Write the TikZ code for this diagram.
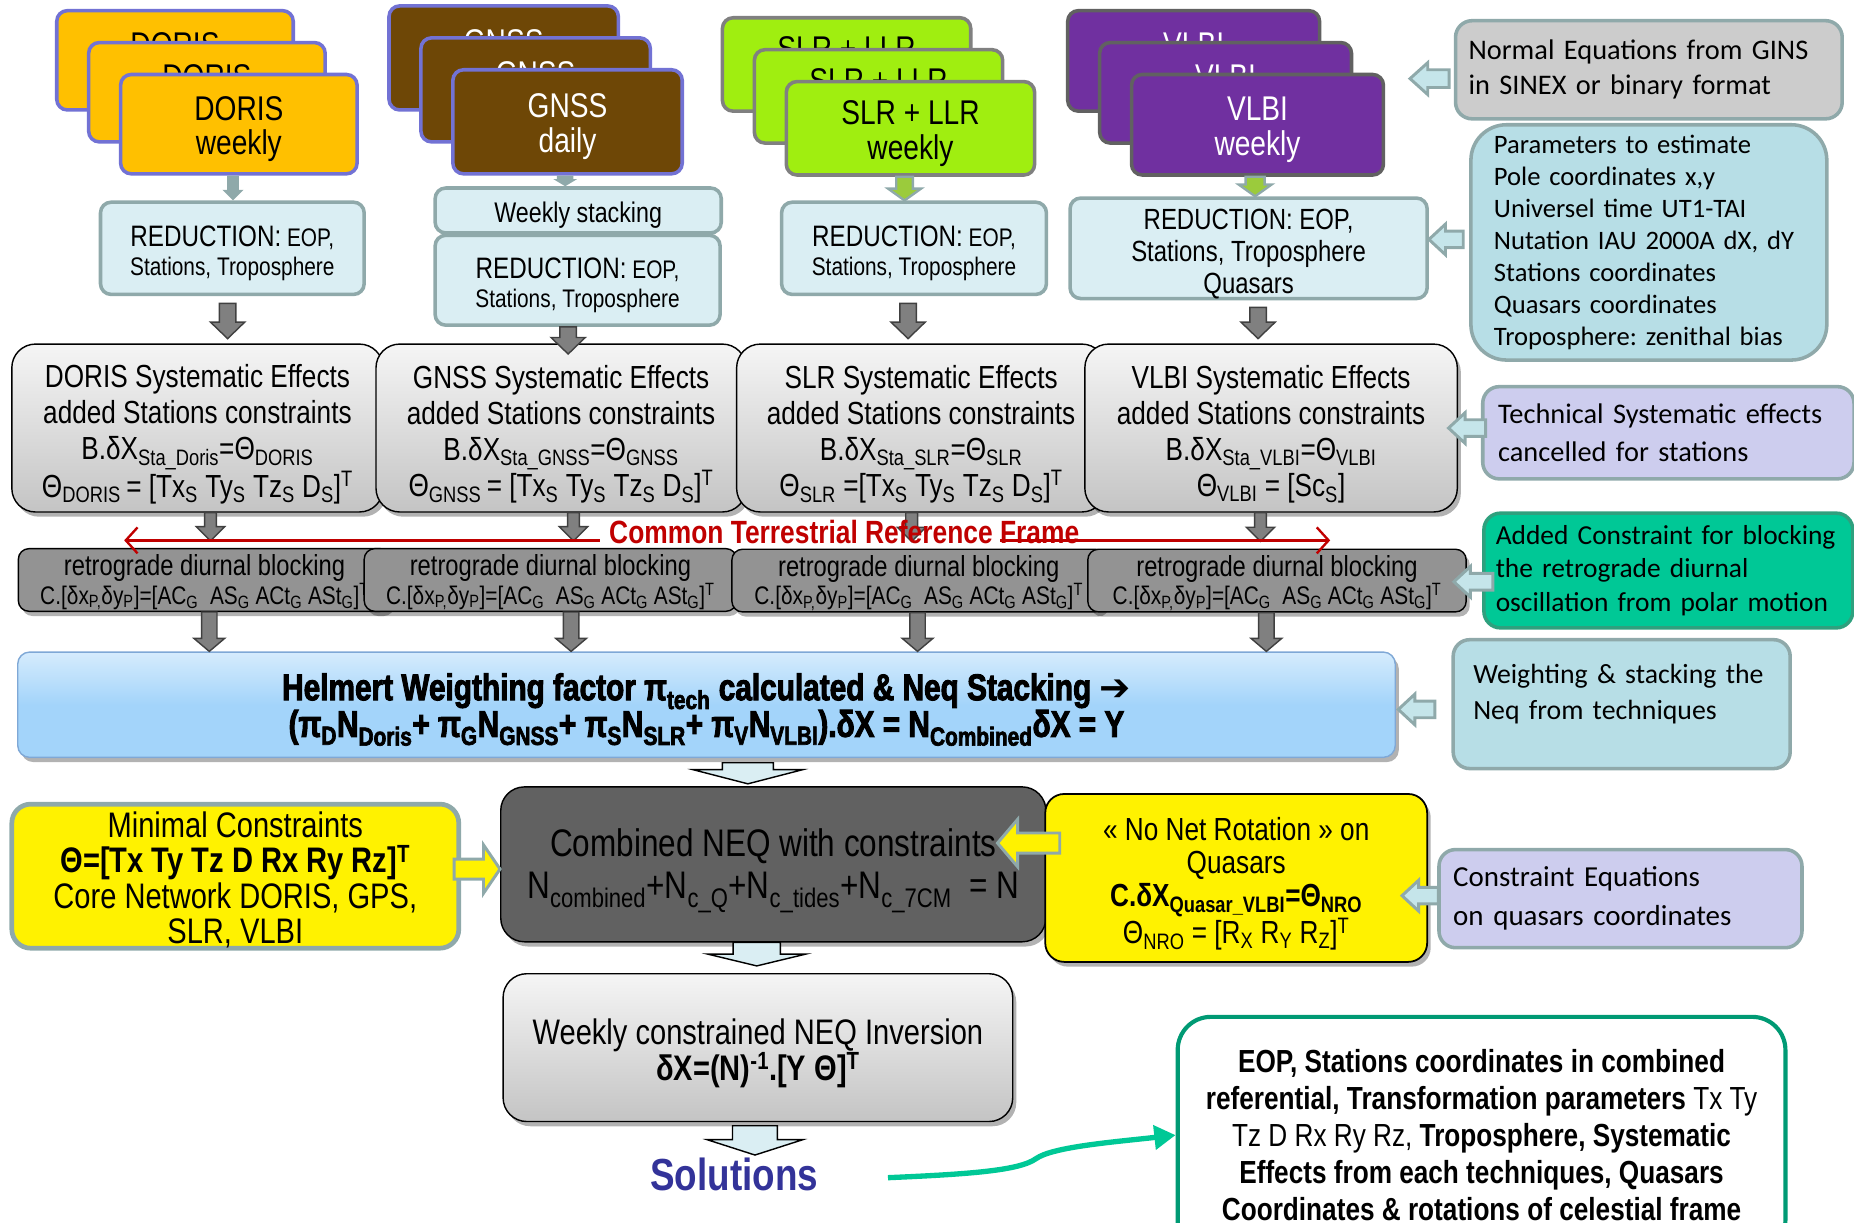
\documentclass[tikz,border=0pt]{standalone}
\usepackage{fontspec}
\setmainfont{Liberation Sans}
\newfontfamily\narr[FakeStretch=0.82]{Liberation Sans}
\newfontfamily\heavy[FakeStretch=0.8,BoldFeatures={FakeBold=2.5}]{Liberation Sans}
\newfontfamily\calib{Carlito}
\newfontfamily\dejav{DejaVu Sans}
\frenchspacing
\usetikzlibrary{calc,shadows,arrows.meta}
\definecolor{dorisg}{HTML}{FFC000}
\definecolor{gnssb}{HTML}{6E4706}
\definecolor{slrg}{HTML}{A0EE10}
\definecolor{vlbiv}{HTML}{7030A0}
\definecolor{lila}{HTML}{7272D4}
\definecolor{rahm}{HTML}{8FA9AA}
\definecolor{hblau}{HTML}{DAEEF3}
\definecolor{pfblau}{HTML}{C5E5EA}
\definecolor{tuerk}{HTML}{B7DEE6}
\definecolor{lav}{HTML}{CDCDEE}
\definecolor{ngrau}{HTML}{CCCCCC}
\definecolor{gruen}{HTML}{00C896}
\definecolor{dgruen}{HTML}{009A74}
\definecolor{mgruen}{HTML}{2FA07E}
\definecolor{rot}{HTML}{C00000}
\definecolor{nblau}{HTML}{333399}
\definecolor{hgrau}{HTML}{939393}
\definecolor{mgrau}{HTML}{808080}
\definecolor{dgrau}{HTML}{616161}
\definecolor{sgrau}{HTML}{404040}
\definecolor{soben}{HTML}{F5F5F5}
\definecolor{sunten}{HTML}{C4C4C4}
\definecolor{himmel}{HTML}{A3D4FA}
\definecolor{hrand}{HTML}{7FA8D6}
\definecolor{slrpf}{HTML}{9BCB3C}
\tikzset{
  schatten/.style={drop shadow={shadow xshift=3pt,shadow yshift=-4pt,opacity=0.3,fill=black}},
  tech/.style={rounded corners=9pt,line width=3pt,align=center,inner sep=0pt,font=\narr\fontsize{29}{29.5}\selectfont},
  dor/.style={tech,draw=lila,fill=dorisg,minimum width=200pt,minimum height=84pt},
  gns/.style={tech,draw=lila,fill=gnssb,text=white,minimum width=194pt,minimum height=88pt},
  slr/.style={tech,draw=mgrau,fill=slrg,minimum width=210pt,minimum height=79pt},
  vlb/.style={tech,draw=dgrau,fill=vlbiv,text=white,minimum width=213pt,minimum height=85pt},
  reduk/.style={rounded corners=9pt,line width=3pt,draw=rahm,fill=hblau,align=center,inner sep=0pt,font=\narr\fontsize{21.5}{24}\selectfont},
  syst/.style={rounded corners=20pt,line width=1.2pt,draw=black,top color=soben,bottom color=sunten,schatten,align=center,inner sep=0pt,font=\narr\fontsize{27}{30.5}\selectfont},
  retro/.style={rounded corners=9pt,line width=1.2pt,draw=black,fill=hgrau,schatten,align=center,inner sep=0pt,minimum height=53pt,font=\narr\fontsize{24.5}{24}\selectfont},
  helm/.style={rounded corners=10pt,line width=1.2pt,draw=hrand,top color=himmel!45!white,bottom color=himmel,middle color=himmel,schatten,align=center,inner sep=0pt,font=\heavy\bfseries\fontsize{31.5}{31}\selectfont},
  komb/.style={rounded corners=20pt,line width=1.2pt,draw=black,fill=dgrau,schatten,align=center,inner sep=0pt,font=\narr\fontsize{32.5}{35}\selectfont},
  gelb/.style={rounded corners=16pt,fill=yellow,align=center,inner sep=0pt},
  ergeb/.style={rounded corners=28pt,line width=3.5pt,draw=dgruen,fill=white,align=center,inner sep=0pt,font=\narr\fontsize{27}{31.2}\selectfont},
  notiz/.style={rounded corners=14pt,line width=3pt,draw=rahm,align=left,inner ysep=0pt,font=\calib\fontsize{24}{29.5}\selectfont},
  dpf/.style={fill=mgrau,draw=sgrau,line width=1.2pt},
  tpf/.style={fill=rahm,draw=none},
  tpfg/.style={fill=slrpf,draw=rahm,line width=2pt},
  hpf/.style={fill=hblau,draw=black,line width=1.2pt},
  npf/.style={fill=pfblau,draw=rahm,line width=2.5pt},
  ypf/.style={fill=yellow,draw=rahm,line width=2.5pt},
  rlin/.style={rot,line width=2pt,-{Straight Barb[length=10pt,width=22pt]}},
  glin/.style={gruen,line width=4.5pt,-{Triangle[length=18pt,width=20pt]}},
}
\newcommand\pfab[6]{\draw[#1] let \p1=(#2),\p2=(#3) in
  (\x1-#4,\y1) -- (\x1-#4,\y2+#6) -- (\x1-#5,\y2+#6) -- (\x1,\y2)
  -- (\x1+#5,\y2+#6) -- (\x1+#4,\y2+#6) -- (\x1+#4,\y1) -- cycle;}
\newcommand\pflinks[6]{\draw[#1] let \p1=(#2),\p2=(#3) in
  (\x1,\y1-#4) -- (\x2+#6,\y1-#4) -- (\x2+#6,\y1-#5) -- (\x2,\y1)
  -- (\x2+#6,\y1+#5) -- (\x2+#6,\y1+#4) -- (\x1,\y1+#4) -- cycle;}
\newcommand\pfrechts[6]{\draw[#1] let \p1=(#2),\p2=(#3) in
  (\x1,\y1-#4) -- (\x2-#6,\y1-#4) -- (\x2-#6,\y1-#5) -- (\x2,\y1)
  -- (\x2-#6,\y1+#5) -- (\x2-#6,\y1+#4) -- (\x1,\y1+#4) -- cycle;}
\newcommand\hoch[1]{\rule{0pt}{#1}}
\newcommand\reduktxt{\hoch{26pt}{\fontsize{25}{24}\selectfont REDUCTION:} EOP,\\Stations, Troposphere}
\newcommand\retrotxt{\hoch{22pt}retrograde diurnal blocking\\{\fontsize{21.5}{24}\selectfont C.[δx\textsubscript{P,}δy\textsubscript{P}]=[AC\textsubscript{G}\ \ AS\textsubscript{G} ACt\textsubscript{G} ASt\textsubscript{G}]\textsuperscript{T}}}
\begin{document}
\begin{tikzpicture}[x=1pt,y=-1pt]
  \useasboundingbox (0,0) rectangle (1568,1034);
  \foreach \d in {54,27}{
    \node[dor] (doris\d) at (202-\d,105-\d) {\hoch{28.5pt}DORIS\\weekly};
    \node[gns] (gnss\d) at (480-\d,103-\d) {\hoch{28.5pt}GNSS\\daily};
    \node[slr] (slr\d) at (770-\d,108.5-\d) {\hoch{28.5pt}SLR + LLR\\weekly};
    \node[vlb] (vlbi\d) at (1063.5-\d,105.5-\d) {\hoch{28.5pt}VLBI\\weekly};
  }
  \node[dor] (doris) at (202,105) {\hoch{28.5pt}DORIS\\weekly};
  \node[gns] (gnss) at (480,103) {\hoch{28.5pt}GNSS\\daily};
  \node[slr] (slr) at (770,108.5) {\hoch{28.5pt}SLR + LLR\\weekly};
  \node[vlb] (vlbi) at (1063.5,105.5) {\hoch{28.5pt}VLBI\\weekly};

  \node[reduk,minimum width=223pt,minimum height=78pt] (dorisred) at (196.5,210) {\reduktxt};
  \node[reduk,minimum width=242pt,minimum height=38pt,font=\narr\fontsize{24}{24}\selectfont] (stapel) at (489,178) {\hoch{26pt}Weekly stacking};
  \node[reduk,minimum width=241pt,minimum height=76pt] (gnssred) at (488.5,237) {\reduktxt};
  \node[reduk,minimum width=224pt,minimum height=78pt] (slrred) at (773,210) {\reduktxt};
  \node[reduk,minimum width=302pt,minimum height=78pt,font=\narr\fontsize{24.7}{27}\selectfont] (vlbired) at (1056,210) {\hoch{26.3pt}REDUCTION: EOP,\\Stations, Troposphere\\Quasars};
  \pfab{tpf}{[xshift=-5pt]doris.south}{dorisred.north}{5pt}{9pt}{9pt}
  \pfab{tpf}{[xshift=-2pt]gnss.south}{stapel.north}{7pt}{10pt}{6pt}
  \pfab{tpfg}{[xshift=-5pt]slr.south}{slrred.north}{7pt}{14pt}{10pt}
  \pfab{tpfg}{[xshift=-2pt]vlbi.south}{vlbired.north}{8pt}{14pt}{10pt}

  \node[syst,minimum width=314pt,minimum height=142pt] (dorissys) at (167,362) {\hoch{30pt}DORIS Systematic Effects\\added Stations constraints\\B.δX\textsubscript{Sta\_Doris}=Θ\textsubscript{DORIS}\\Θ\textsubscript{DORIS}\,= [Tx\textsubscript{S} Ty\textsubscript{S} Tz\textsubscript{S} D\textsubscript{S}]\textsuperscript{T}};
  \node[syst,minimum width=313pt,minimum height=142pt] (gnsssys) at (474.5,362) {\hoch{30pt}GNSS Systematic Effects\\added Stations constraints\\B.δX\textsubscript{Sta\_GNSS}=Θ\textsubscript{GNSS}\\Θ\textsubscript{GNSS}\,= [Tx\textsubscript{S} Ty\textsubscript{S} Tz\textsubscript{S} D\textsubscript{S}]\textsuperscript{T}};
  \node[syst,minimum width=312pt,minimum height=142pt] (slrsys) at (779,362) {\hoch{30pt}SLR Systematic Effects\\added Stations constraints\\B.δX\textsubscript{Sta\_SLR}=Θ\textsubscript{SLR}\\Θ\textsubscript{SLR} =[Tx\textsubscript{S} Ty\textsubscript{S} Tz\textsubscript{S} D\textsubscript{S}]\textsuperscript{T}};
  \node[syst,minimum width=315pt,minimum height=142pt] (vlbisys) at (1075,362) {\hoch{30pt}VLBI Systematic Effects\\added Stations constraints\\B.δX\textsubscript{Sta\_VLBI}=Θ\textsubscript{VLBI}\\Θ\textsubscript{VLBI} = [Sc\textsubscript{S}]};
  \pfab{dpf}{[xshift=-4pt,yshift=-6pt]dorisred.south}{[yshift=4pt]dorissys.north}{7pt}{14.5pt}{14pt}
  \pfab{dpf}{[xshift=-8pt]gnssred.south}{[yshift=-9pt]gnsssys.north}{7pt}{14.5pt}{14pt}
  \pfab{dpf}{[xshift=-5pt,yshift=-6pt]slrred.south}{[yshift=4pt]slrsys.north}{7pt}{14.5pt}{14pt}
  \pfab{dpf}{[xshift=8pt,yshift=-6pt]vlbired.south}{[yshift=4pt]vlbisys.north}{7pt}{14.5pt}{14pt}

  \node[retro,minimum width=315pt] (dorisretro) at (173,490.5) {\retrotxt};
  \node[retro,minimum width=315pt] (gnssretro) at (465.5,490.5) {\retrotxt};
  \node[retro,minimum width=316pt] (slrretro) at (777,491) {\retrotxt};
  \node[retro,minimum width=320pt] (vlbiretro) at (1080,491) {\retrotxt};
  \pfab{dpf}{[xshift=11pt]dorissys.south}{[yshift=6pt]dorisretro.north}{5pt}{12pt}{12pt}
  \pfab{dpf}{[xshift=10.5pt]gnsssys.south}{[yshift=6pt]gnssretro.north}{5pt}{12pt}{12pt}
  \pfab{dpf}{[xshift=-8pt]slrsys.south}{[yshift=6pt]slrretro.north}{5pt}{12pt}{12pt}
  \pfab{dpf}{[xshift=-9pt]vlbisys.south}{[yshift=6pt]vlbiretro.north}{5pt}{12pt}{12pt}

  \node[font=\narr\bfseries\fontsize{27.2}{27}\selectfont,text=rot,inner sep=8pt] (crf) at (714,450) {Common Terrestrial Reference Frame};
  \coordinate (crfl) at (105,457);
  \coordinate (crfr) at (1125,457);
  \draw[rlin] (crfl -| crf.west) -- (crfl);
  \draw[rlin] (crfr -| crf.east) ++(-75,0) -- (crfr);

  \node[helm,minimum width=1165pt,minimum height=89pt] (helmert) at (597.5,596) {\hoch{31pt}Helmert Weigthing factor π\textsubscript{tech} calculated \& Neq Stacking {\dejav\mdseries ➔}\\(π\textsubscript{D}N\textsubscript{Doris}+ π\textsubscript{G}N\textsubscript{GNSS}+ π\textsubscript{S}N\textsubscript{SLR}+ π\textsubscript{V}N\textsubscript{VLBI}).δX = N\textsubscript{Combined}δX = Y};
  \pfab{dpf}{[xshift=4pt]dorisretro.south}{helmert.north}{6.5pt}{13pt}{11pt}
  \pfab{dpf}{[xshift=17.5pt]gnssretro.south}{helmert.north}{6.5pt}{13pt}{11pt}
  \pfab{dpf}{[xshift=-1pt]slrretro.south}{helmert.north}{6.5pt}{13pt}{11pt}
  \pfab{dpf}{[xshift=-9pt]vlbiretro.south}{helmert.north}{6.5pt}{13pt}{11pt}

  \node[komb,minimum width=461pt,minimum height=131pt] (komb) at (654,731) {\hoch{35pt}Combined NEQ with constraints\\N\textsubscript{combined}+N\textsubscript{c\_Q}+N\textsubscript{c\_tides}+N\textsubscript{c\_7CM}\ \ = N};
  \pfab{hpf}{[xshift=35pt,yshift=-4pt]helmert.south}{[yshift=2pt]komb.north}{21.5pt}{46.5pt}{12pt}

  \node[gelb,draw=rahm,line width=4pt,minimum width=378pt,minimum height=114pt,font=\narr\fontsize{30}{30}\selectfont] (mini) at (199,741) {\hoch{28pt}Minimal Constraints\\\textbf{Θ=[Tx Ty Tz D Rx Ry Rz]\textsuperscript{T}}\\Core Network DORIS, GPS,\\SLR, VLBI};
  \node[gelb,draw=black,line width=1.5pt,schatten,minimum width=323pt,minimum height=142pt,font=\narr\fontsize{27}{28}\selectfont] (nnr) at (1045.5,742.5) {\hoch{29.5pt}« No Net Rotation » on\\Quasars\\\textbf{C.δX\textsubscript{Quasar\_VLBI}=Θ\textsubscript{NRO}}\\Θ\textsubscript{NRO} = [R\textsubscript{X} R\textsubscript{Y} R\textsubscript{Z}]\textsuperscript{T}};
  \pfrechts{ypf}{[xshift=-6pt,yshift=6pt]mini.east}{komb.west}{8.5pt}{20.5pt}{14pt}
  \pflinks{ypf}{[xshift=13pt,yshift=29.5pt]nnr.west}{[xshift=-41.5pt]komb.east}{8.5pt}{20pt}{17pt}

  \node[syst,minimum width=431pt,minimum height=125pt,font=\narr\fontsize{30}{28}\selectfont] (inv) at (641,886) {\hoch{31pt}Weekly constrained NEQ Inversion\\\textbf{δX=(N)\textsuperscript{-1}.[Y Θ]\textsuperscript{T}}};
  \pfab{hpf}{[xshift=-14pt]komb.south}{[yshift=6pt]inv.north}{20pt}{41.5pt}{10pt}

  \node[font=\narr\bfseries\fontsize{38}{40}\selectfont,text=nblau,inner sep=0pt] (loes) at (621,993) {Solutions};
  \pfab{hpf}{[xshift=-2.5pt,yshift=-3pt]inv.south}{[yshift=2pt]loes.north}{19pt}{40.5pt}{13pt}

  \node[ergeb,minimum width=514pt,minimum height=200pt] (ergeb) at (1253,960) {\textbf{EOP, Stations coordinates in combined}\\\textbf{referential, Transformation parameters} Tx Ty\\Tz D Rx Ry Rz, \textbf{Troposphere, Systematic}\\\textbf{Effects from each techniques, Quasars}\\\textbf{Coordinates \& rotations of celestial frame}};
  \coordinate (gstart) at (751,996);
  \draw[glin] (gstart) .. controls (820,993) and (862,990) .. (876,980) .. controls (890,970) and (940,966) .. (ergeb.west);

  \node[notiz,fill=ngrau,text width=305pt,inner xsep=11pt,minimum height=83pt] (gins) at (1394.5,59) {Normal Equations from GINS\\in SINEX or binary format};
  \node[notiz,fill=tuerk,rounded corners=30pt,text width=262pt,inner xsep=19.5pt,minimum height=199pt,font=\calib\fontsize{22.5}{27}\selectfont] (param) at (1394.5,205) {Parameters to estimate\\Pole coordinates x,y\\Universel time UT1-TAI\\Nutation IAU 2000A dX, dY\\Stations coordinates\\Quasars coordinates\\Troposphere: zenithal bias};
  \node[notiz,fill=lav,text width=288pt,inner xsep=13pt,minimum height=78pt,font=\calib\fontsize{24}{32}\selectfont] (tsyst) at (1411,366) {Technical Systematic effects\\cancelled for stations};
  \node[notiz,fill=gruen,draw=mgruen,text width=292pt,inner xsep=10pt,minimum height=97pt,font=\calib\fontsize{23.2}{28.5}\selectfont] (added) at (1411,482.5) {Added Constraint for blocking\\the retrograde diurnal\\oscillation from polar motion};
  \node[notiz,fill=tuerk,text width=251pt,inner xsep=17pt,minimum height=109pt,font=\calib\fontsize{23.5}{30.5}\selectfont] (weight) at (1371.5,595.5) {Weighting \& stacking the\\Neq from techniques\rule[-20pt]{0pt}{0pt}};
  \node[notiz,fill=lav,text width=283pt,inner xsep=12pt,minimum height=83pt,font=\calib\fontsize{24.5}{33}\selectfont] (ceq) at (1370.5,760) {Constraint Equations\\on quasars coordinates};

  \pflinks{npf}{[xshift=-4pt,yshift=-7.5pt]gins.west}{[xshift=21pt]vlbi.east}{7.5pt}{13.5pt}{15pt}
  \pflinks{npf}{[xshift=-5pt,yshift=2.5pt]param.west}{vlbired.east}{7pt}{13pt}{14pt}
  \pflinks{npf}{[xshift=4pt,yshift=4pt]tsyst.west}{[xshift=-8pt]vlbisys.east}{7pt}{13pt}{14pt}
  \pflinks{npf}{[xshift=9pt,yshift=-9.5pt]added.west}{[xshift=-11pt]vlbiretro.east}{7pt}{13pt}{14pt}
  \pflinks{npf}{[xshift=-14pt,yshift=-4.5pt]weight.west}{[xshift=2pt]helmert.east}{7pt}{13pt}{14pt}
  \pflinks{npf}{[xshift=1pt,yshift=2.5pt]ceq.west}{[xshift=-22pt]nnr.east}{7pt}{13pt}{14pt}
\end{tikzpicture}
\end{document}
